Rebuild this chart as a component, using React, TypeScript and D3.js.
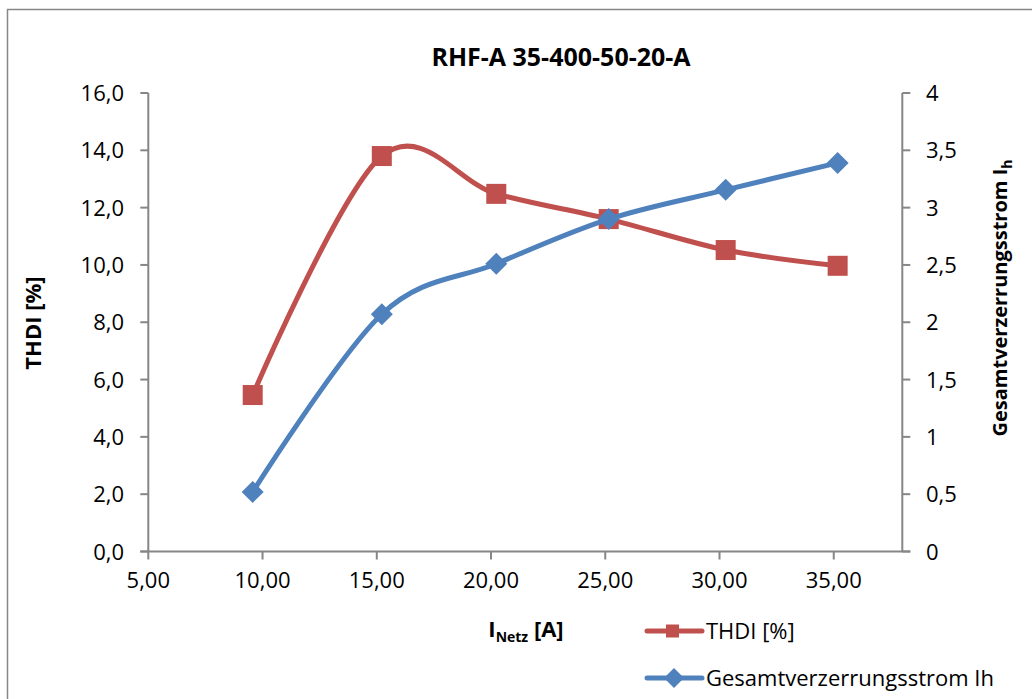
import React from "react";
import * as d3 from "d3";

const xValues = [9.57, 15.22, 20.23, 25.15, 30.27, 35.17];
const thdiValues = [5.46, 13.8, 12.48, 11.6, 10.52, 9.97];
const ihValues = [0.52, 2.07, 2.51, 2.9, 3.155, 3.39];
const xTicks = [5, 10, 15, 20, 25, 30, 35];
const leftTicks = [0, 2, 4, 6, 8, 10, 12, 14, 16];
const rightTicks = [0, 0.5, 1, 1.5, 2, 2.5, 3, 3.5, 4];
const title = "RHF-A 35-400-50-20-A";
const seriesNames = ["THDI [%]", "Gesamtverzerrungsstrom Ih"];

const RED = "#C0504D";
const BLUE = "#4F81BD";
const AXIS = "#868686";
const FONT = "'Open Sans', sans-serif";

const de = d3.formatLocale({ decimal: ",", thousands: ".", grouping: [3], currency: ["", "€"] });
const fx = de.format(".2f");
const fl = de.format(".1f");
const fr = de.format("~g");

export default function App() {
  const W = 1032, H = 699;
  const left = 148.3, right = 902.3, top = 93, bottom = 551.5;
  const x = d3.scaleLinear().domain([5, 38]).range([left, right]);
  const yL = d3.scaleLinear().domain([0, 16]).range([bottom, top]);
  const yR = d3.scaleLinear().domain([0, 4]).range([bottom, top]);

  const thdiPts: [number, number][] = xValues.map((v, i) => [x(v), yL(thdiValues[i])]);
  const ihPts: [number, number][] = xValues.map((v, i) => [x(v), yR(ihValues[i])]);
  const line = d3.line().curve(d3.curveCardinal.tension(0));

  const sq = 20;
  const dm = 11;
  const diamond = (cx: number, cy: number, r: number) =>
    `M${cx},${cy - r}L${cx + r},${cy}L${cx},${cy + r}L${cx - r},${cy}Z`;

  return (
    <svg width={W} height={H} style={{ position: "absolute", left: 0, top: 0, background: "#fff" }}>
      <rect x={0} y={0} width={W} height={H} fill="#fff" />
      <rect x={7.5} y={9.5} width={1200} height={900} fill="none" stroke={AXIS} strokeWidth={1.5} />
      <text x={561} y={66} textAnchor="middle" fontFamily={FONT} fontWeight="bold" fontSize={25} fill="#000">
        {title}
      </text>

      {/* axes */}
      <line x1={left} y1={top} x2={left} y2={bottom} stroke={AXIS} strokeWidth={2} />
      <line x1={right} y1={top} x2={right} y2={bottom} stroke={AXIS} strokeWidth={2} />
      <line x1={left - 8} y1={bottom} x2={right + 8} y2={bottom} stroke={AXIS} strokeWidth={2} />
      {leftTicks.map((t) => (
        <g key={"l" + t}>
          <line x1={left - 8} x2={left} y1={yL(t)} y2={yL(t)} stroke={AXIS} strokeWidth={2} />
          <text x={124} y={yL(t) + 8} textAnchor="end" fontFamily={FONT} fontSize={22} fill="#000">
            {fl(t)}
          </text>
        </g>
      ))}
      {rightTicks.map((t) => (
        <g key={"r" + t}>
          <line x1={right} x2={right + 8} y1={yR(t)} y2={yR(t)} stroke={AXIS} strokeWidth={2} />
          <text x={926} y={yR(t) + 8} textAnchor="start" fontFamily={FONT} fontSize={22} fill="#000">
            {fr(t)}
          </text>
        </g>
      ))}
      {xTicks.map((t) => (
        <g key={"x" + t}>
          <line x1={x(t)} x2={x(t)} y1={bottom} y2={bottom + 8} stroke={AXIS} strokeWidth={2} />
          <text x={x(t)} y={588} textAnchor="middle" fontFamily={FONT} fontSize={22} fill="#000">
            {fx(t)}
          </text>
        </g>
      ))}

      {/* axis titles */}
      <text transform="translate(41,323) rotate(-90)" textAnchor="middle" fontFamily={FONT} fontWeight="bold" fontSize={22} fill="#000">
        THDI [%]
      </text>
      <text transform="translate(1007,298) rotate(-90)" textAnchor="middle" fontFamily={FONT} fontWeight="bold" fontSize={20} fill="#000">
        Gesamtverzerrungsstrom I<tspan fontSize={14} dy={5}>h</tspan>
      </text>
      <text x={526} y={637} textAnchor="middle" fontFamily={FONT} fontWeight="bold" fontSize={22} fill="#000">
        I<tspan fontSize={14} dy={5}>Netz</tspan><tspan dy={-5}> [A]</tspan>
      </text>

      {/* series */}
      <path d={line(thdiPts) || ""} fill="none" stroke={RED} strokeWidth={5} strokeLinejoin="round" />
      {thdiPts.map(([px, py], i) => (
        <rect key={"s" + i} x={px - sq / 2} y={py - sq / 2} width={sq} height={sq} fill={RED} />
      ))}
      <path d={line(ihPts) || ""} fill="none" stroke={BLUE} strokeWidth={5} strokeLinejoin="round" />
      {ihPts.map(([px, py], i) => (
        <path key={"d" + i} d={diamond(px, py, dm)} fill={BLUE} />
      ))}

      {/* legend */}
      <line x1={647} x2={702} y1={631} y2={631} stroke={RED} strokeWidth={5} strokeLinecap="round" />
      <rect x={666} y={624.5} width={13} height={13} fill={RED} />
      <text x={706} y={639} fontFamily={FONT} fontSize={22} fill="#000">{seriesNames[0]}</text>
      <line x1={647} x2={702} y1={678} y2={678} stroke={BLUE} strokeWidth={5} strokeLinecap="round" />
      <path d={diamond(674, 678, 10)} fill={BLUE} />
      <text x={706} y={686} fontFamily={FONT} fontSize={22} fill="#000">{seriesNames[1]}</text>
    </svg>
  );
}
